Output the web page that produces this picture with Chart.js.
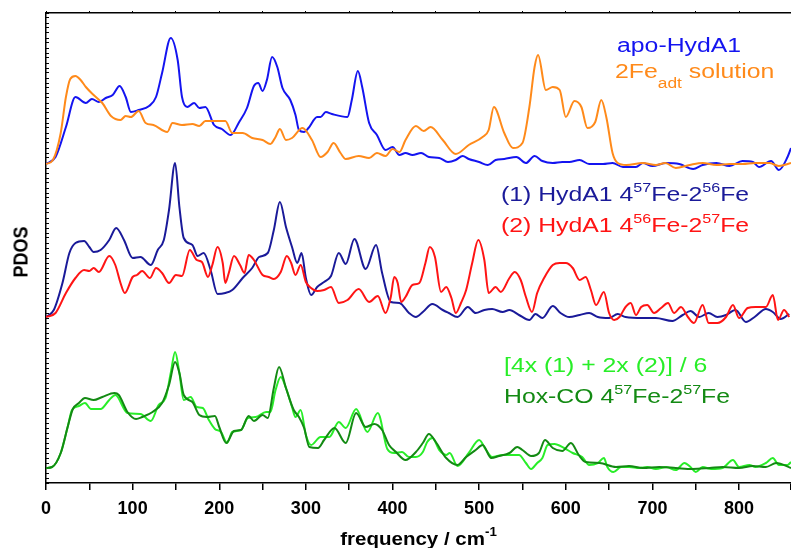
<!DOCTYPE html>
<html>
<head>
<meta charset="utf-8">
<script src="https://cdn.jsdelivr.net/npm/chart.js@4.4.1/dist/chart.umd.min.js"></script>
<style>
  html, body { margin: 0; padding: 0; background: #fff; }
  #wrap { position: relative; width: 791px; height: 548px; overflow: hidden; }
  #chart { position: absolute; left: 0; top: 0; }
  .lab {
    position: absolute;
    font-family: "Liberation Sans", Arial, sans-serif;
    font-size: 20px;
    line-height: 20px;
    white-space: nowrap;
    transform: scaleX(1.24);
    transform-origin: 0 0;
  }
  .lab sup, .lab sub { font-size: 0.65em; position: relative; vertical-align: baseline; line-height: 0; }
  .lab sup { top: -0.7em; }
  .lab sub { font-size: 0.7em; top: 0.72em; }
  #xtitle {
    position: absolute; left: 0; width: 837px; top: 529px;
    text-align: center;
    font: bold 19px/19px "Liberation Sans", Arial, sans-serif;
    transform: scaleX(1.08); transform-origin: 418px 0;
  }
  #xtitle sup { font-size: 0.65em; position: relative; vertical-align: baseline; top: -0.7em; line-height: 0; }
  #ytitle {
    position: absolute; left: -29px; top: 243px; width: 100px;
    text-align: center;
    font: bold 18px/18px "Liberation Sans", Arial, sans-serif;
    transform: rotate(-90deg) scaleY(1.15);
  }
</style>
</head>
<body>
<div id="wrap">
  <canvas id="chart" width="791" height="548"></canvas>
  <div class="lab" style="left:617px; top:35px; color:#1414f0;">apo-HydA1</div>
  <div class="lab" style="left:615px; top:61px; color:#ff8a1a;">2Fe<sub>adt</sub> solution</div>
  <div class="lab" style="left:501px; top:184px; color:#1a1a99;">(1) HydA1 4<sup>57</sup>Fe-2<sup>56</sup>Fe</div>
  <div class="lab" style="left:501px; top:215px; color:#ff1414;">(2) HydA1 4<sup>56</sup>Fe-2<sup>57</sup>Fe</div>
  <div class="lab" style="left:504px; top:355px; color:#28ee28;">[4x (1) + 2x (2)] / 6</div>
  <div class="lab" style="left:504px; top:386px; color:#138a13;">Hox-CO 4<sup>57</sup>Fe-2<sup>57</sup>Fe</div>
  <div id="xtitle">frequency / cm<sup>-1</sup></div>
  <div id="ytitle">PDOS</div>
</div>
<script>
// PDOS traces, stacked with vertical offsets (arbitrary units)
const apoFreq = [0,11,23,34,46,53,61,69,77,85,92,98,107,119,127,134,144,152,157,163,171,177,184,194,203,213,223,232,240,245,250,255,261,267,273,282,288,292,298,303,313,317,323,330,348,353,360,365,373,382,392,400,408,415,423,433,442,454,464,473,481,488,500,510,519,529,543,554,564,573,585,596,604,616,627,643,654,666,681,689,700,716,731,747,758,774,789,804,816,823,837,846,856,860];
const apoPdos = [319,326,356,386,380,384,381,385,388,397,386,371,373,377,386,410,445,423,386,376,380,375,376,358,354,348,361,375,397,400,392,403,426,416,395,383,368,353,351,355,366,366,371,369,366,383,412,396,360,348,333,336,328,330,328,330,326,325,321,323,327,324,321,318,323,324,326,320,327,322,320,321,321,323,319,319,320,316,316,320,317,320,319,314,318,320,317,322,321,316,322,313,326,335];

const feFreq = [0,8,17,23,28,34,40,46,55,65,75,86,92,98,107,115,124,140,146,157,169,177,184,196,207,215,227,238,250,259,265,270,277,284,296,307,317,325,332,340,346,361,373,382,392,400,408,415,427,436,444,458,473,488,504,511,517,529,539,550,558,564,568,577,585,593,600,610,618,625,634,641,647,654,660,670,689,704,715,727,743,758,774,789,804,819,835,846,860];
const fePdos = [319,323,350,386,404,407,403,396,388,380,367,363,367,366,372,360,358,351,360,358,359,357,362,362,362,350,350,345,343,339,346,354,343,345,355,343,326,331,340,330,324,327,325,330,327,334,331,343,357,352,356,343,329,338,346,353,376,350,335,340,376,416,428,393,396,393,366,382,376,355,361,383,365,330,320,318,320,318,320,315,318,320,318,319,319,320,320,317,320];

const h1Freq = [0,9,19,27,34,44,50,55,63,73,81,90,100,109,121,129,136,142,149,154,159,169,175,182,190,198,207,215,227,238,246,256,263,270,277,284,290,295,300,306,313,321,329,338,346,356,369,381,388,398,408,419,427,435,446,458,465,475,487,496,506,515,527,535,546,558,565,573,585,594,604,616,627,637,650,660,669,689,704,723,735,744,754,765,775,785,796,808,818,831,839,848,858];
const h1Pdos = [166,173,200,230,240,242,236,231,233,243,255,243,225,226,218,233,243,273,320,276,245,238,227,230,213,189,190,193,205,215,226,230,253,281,256,236,220,230,205,188,196,201,207,230,219,244,214,238,210,181,180,170,166,171,179,173,170,166,176,170,173,174,171,173,168,163,169,165,177,170,166,168,170,166,165,169,166,165,165,162,168,172,166,170,166,168,173,161,166,174,171,164,169];

const h2Freq = [0,11,23,34,44,50,55,61,73,80,86,91,100,105,111,120,127,134,142,150,157,166,174,180,187,192,198,204,207,211,217,224,229,234,240,250,257,263,271,278,283,288,294,300,306,313,321,329,338,348,361,373,383,392,398,402,406,410,415,423,431,438,443,449,456,462,468,473,479,485,492,499,506,511,519,525,535,541,548,554,561,567,575,585,593,600,608,616,623,629,635,644,650,656,662,669,675,681,687,694,702,710,718,725,733,741,748,758,765,775,785,793,800,810,819,831,839,845,852,858];
const h2Pdos = [166,170,190,205,213,212,215,211,227,218,200,190,206,208,212,205,215,210,200,208,207,233,223,221,206,218,236,220,200,210,227,218,210,228,223,208,206,204,211,227,220,208,218,201,195,192,193,196,180,183,194,181,187,170,186,206,200,181,186,198,200,220,236,226,191,196,185,170,180,193,220,243,223,190,196,191,205,211,203,186,171,190,205,218,220,220,215,203,206,193,178,191,170,163,166,176,180,168,176,178,170,175,180,170,176,166,160,178,160,160,166,178,165,175,176,176,188,163,173,166];

const mixFreq = [0,7,17,25,30,38,45,52,63,73,80,94,109,121,130,138,144,149,154,159,167,174,181,188,195,202,209,215,225,233,242,254,259,265,271,277,284,288,294,300,306,317,327,338,346,358,371,383,394,402,411,419,427,435,440,446,454,462,466,475,488,500,508,515,527,537,546,554,560,567,573,579,587,598,608,619,627,637,644,648,655,664,673,685,694,704,716,727,737,744,750,758,768,781,793,800,812,819,831,839,846,856,860];
const mixPdos = [15,16,30,56,73,77,80,74,74,83,88,70,69,62,78,85,110,131,110,83,86,76,75,63,54,51,40,51,53,65,66,71,71,93,106,95,76,66,73,48,38,46,46,61,55,74,51,70,34,30,31,26,26,31,41,45,33,28,30,17,30,43,33,26,28,28,28,20,14,20,25,38,39,35,30,26,18,20,25,16,11,16,16,15,16,14,16,13,20,16,11,16,14,15,23,16,18,16,20,25,18,18,21];

const hoxFreq = [0,7,17,25,31,38,45,55,65,79,84,94,104,111,123,134,142,149,154,159,169,177,186,195,200,208,217,225,234,240,250,256,263,269,277,286,292,298,304,314,321,333,346,358,369,379,388,396,404,415,427,435,442,450,462,475,485,496,504,514,523,535,544,550,560,569,576,585,596,606,615,623,639,658,673,689,708,727,746,766,781,800,816,831,843,860];
const hoxPdos = [15,16,30,56,74,80,85,83,86,90,88,71,64,66,71,80,98,121,110,88,81,68,66,67,56,40,52,53,67,62,68,65,95,116,95,73,66,55,36,35,43,55,40,70,56,59,53,38,31,23,31,40,49,41,25,18,26,33,38,25,27,30,36,33,27,30,43,35,32,40,28,21,20,16,17,15,16,15,14,15,16,15,17,16,20,15];

const xMin = 0;
const xMax = 860;

function toPoints(xs, ys) {
  return xs.map((x, i) => ({ x: x, y: ys[i] }));
}

function trace(label, xs, ys, color) {
  return {
    label: label,
    data: toPoints(xs, ys),
    borderColor: color,
    borderWidth: 2,
    pointRadius: 0,
    fill: false,
    cubicInterpolationMode: "monotone",
  };
}

// pin the plot box: no side padding reserved for tick labels
function pinX(height) {
  return (s) => {
    s.height = height;
    s.paddingLeft = 0;
    s.paddingRight = 0;
  };
}

const axisFont = { family: "'Liberation Sans', Arial, sans-serif", size: 18, weight: "bold" };

// first dataset is drawn on top
const chart = new Chart(document.getElementById("chart"), {
  type: "line",
  data: {
    datasets: [
      trace("Hox-CO 4(57)Fe-2(57)Fe", hoxFreq, hoxPdos, "#138a13"),
      trace("[4x (1) + 2x (2)] / 6", mixFreq, mixPdos, "#28ee28"),
      trace("(2) HydA1 4(56)Fe-2(57)Fe", h2Freq, h2Pdos, "#ff1414"),
      trace("(1) HydA1 4(57)Fe-2(56)Fe", h1Freq, h1Pdos, "#1a1a99"),
      trace("2Fe(adt) solution", feFreq, fePdos, "#ff8a1a"),
      trace("apo-HydA1", apoFreq, apoPdos, "#1414f0"),
    ],
  },
  options: {
    responsive: false,
    animation: false,
    layout: { padding: 0, autoPadding: false },
    plugins: { legend: { display: false }, tooltip: { enabled: false } },
    scales: {
      x: {
        type: "linear",
        position: "bottom",
        min: xMin,
        max: xMax,
        afterFit: pinX(65),
        border: { display: true, color: "#000", width: 1.5 },
        grid: { drawOnChartArea: false, tickLength: 7, color: "#000", lineWidth: 1.5 },
        ticks: {
          stepSize: 50,
          autoSkip: false,
          maxRotation: 0,
          padding: 8,
          color: "#000",
          font: axisFont,
          callback: (v) => (v % 100 === 0 ? String(v) : ""),
        },
      },
      xTop: {
        type: "linear",
        position: "top",
        min: xMin,
        max: xMax,
        afterFit: pinX(13),
        border: { display: true, color: "#000", width: 1.5 },
        grid: { drawOnChartArea: false, tickLength: 2, color: "#000", lineWidth: 1 },
        ticks: { display: false, stepSize: 50 },
      },
      y: {
        type: "linear",
        position: "left",
        min: 0,
        max: 470,
        afterFit: (s) => { s.width = 46; s.paddingTop = 0; s.paddingBottom = 0; },
        border: { display: true, color: "#000", width: 1.5 },
        grid: { drawOnChartArea: false, tickLength: -3, color: "#000", lineWidth: 1 },
        ticks: { display: false, stepSize: 5, maxTicksLimit: 200 },
      },
    },
  },
});
</script>
</body>
</html>
